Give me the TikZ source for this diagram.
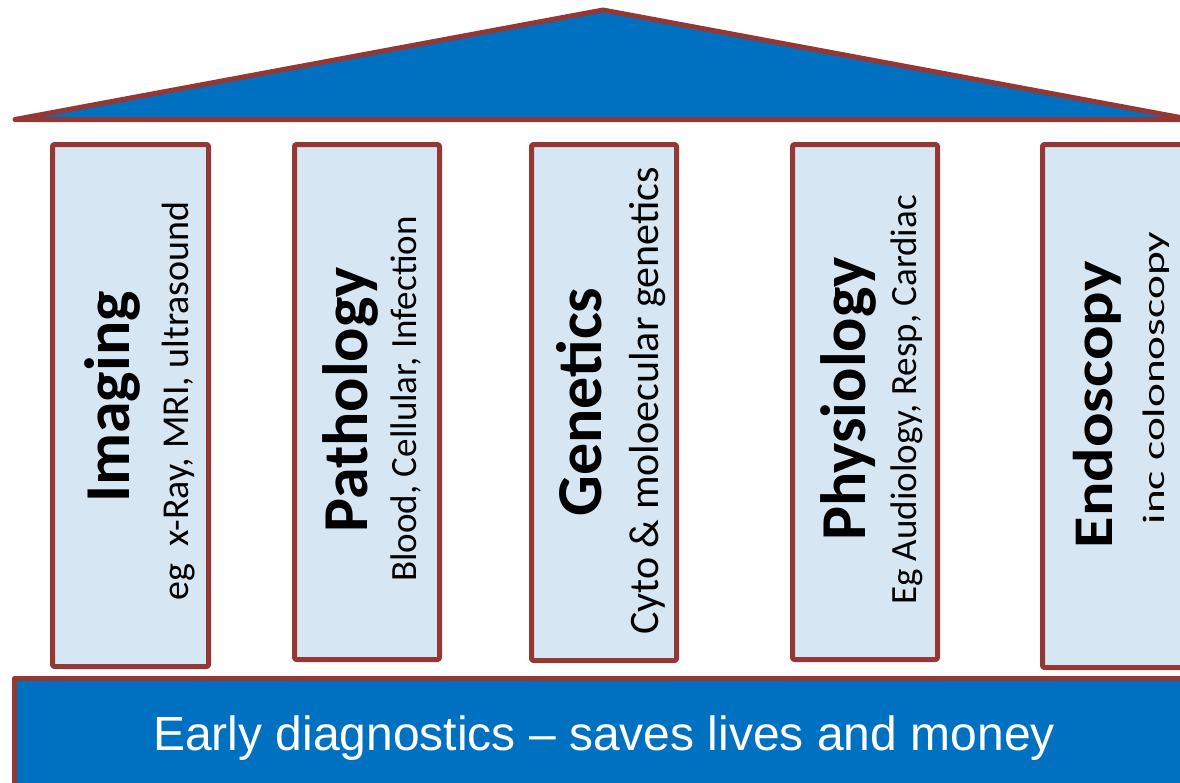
\documentclass[tikz,border=0pt]{standalone}
\usepackage{graphicx}
\usepackage{fontspec}
\setmainfont{Carlito}
\newfontfamily\arialfont{Liberation Sans}
\definecolor{roofred}{HTML}{953735}
\definecolor{deepblue}{HTML}{0070C0}
\definecolor{paleblue}{HTML}{D7E6F3}

\begin{document}
\begin{tikzpicture}[x=1pt,y=-1pt,
  outline/.style={draw=roofred, line width=5pt, line join=round},
  pillar/.style={outline, fill=paleblue, rounded corners=2pt, inner sep=0pt},
  title/.style={rotate=90, anchor=base, inner sep=0pt, font=\bfseries\fontsize{64}{70}\selectfont},
  sub/.style={rotate=90, anchor=base, inner sep=0pt},
]
\useasboundingbox (0,0) rectangle (1180,782);
\clip (0,0) rectangle (1180,782);

% roof
\coordinate (eaveL) at (15,119.5);
\coordinate (apex) at (603,10);
\coordinate (eaveR) at (1191,119.5);
\draw[outline, fill=deepblue] (eaveL) -- (apex) -- (eaveR) -- cycle;

% pillars
\node[pillar, minimum width=156, minimum height=522] (imaging) at (130.5,405.5) {};
\node[pillar, minimum width=145, minimum height=515] (pathology) at (367,402) {};
\node[pillar, minimum width=145, minimum height=516] (genetics) at (604,402.5) {};
\node[pillar, minimum width=145, minimum height=515] (physiology) at (865,402) {};
\node[pillar, minimum width=145.5, minimum height=523] (endoscopy) at (1115.25,406) {};

% foundation
\draw[outline, fill=deepblue] (14.5,678.5) rectangle (1200,800);
\node[font=\arialfont\fontsize{48}{54}\selectfont, text=white, anchor=base, inner sep=0pt]
  (motto) at (604,750) {Early diagnostics – saves lives and money};

% pillar labels
\node[title] (imagingT) at (129,397) {Imaging};
\node[sub, font=\fontsize{38}{44}\selectfont] (imagingS) at (188,401) {eg\ \ x-Ray, MRI, ultrasound};

\node[title] (pathologyT) at (367,400) {Pathology};
\node[sub, font=\fontsize{37}{44}\selectfont] (pathologyS) at (416,399) {Blood, Cellular, Infection};

\node[title] (geneticsT) at (601,402) {Genetics};
\node[sub, font=\fontsize{42}{48}\selectfont] (geneticsS) at (658,401) {Cyto \& moloecular genetics};

\node[title] (physiologyT) at (865,399) {Physiology};
\node[sub, font=\fontsize{37}{42}\selectfont] (physiologyS) at (916,400) {Eg Audiology, Resp, Cardiac};

\node[title, font=\bfseries\fontsize{56}{62}\selectfont] (endoscopyT) at (1112,405) {\scalebox{1.15}[1]{Endoscopy}};
\node[sub, font=\fontsize{31}{36}\selectfont] (endoscopyS) at (1164,378) {\scalebox{1.46}[1]{inc colonoscopy}};
\end{tikzpicture}
\end{document}
